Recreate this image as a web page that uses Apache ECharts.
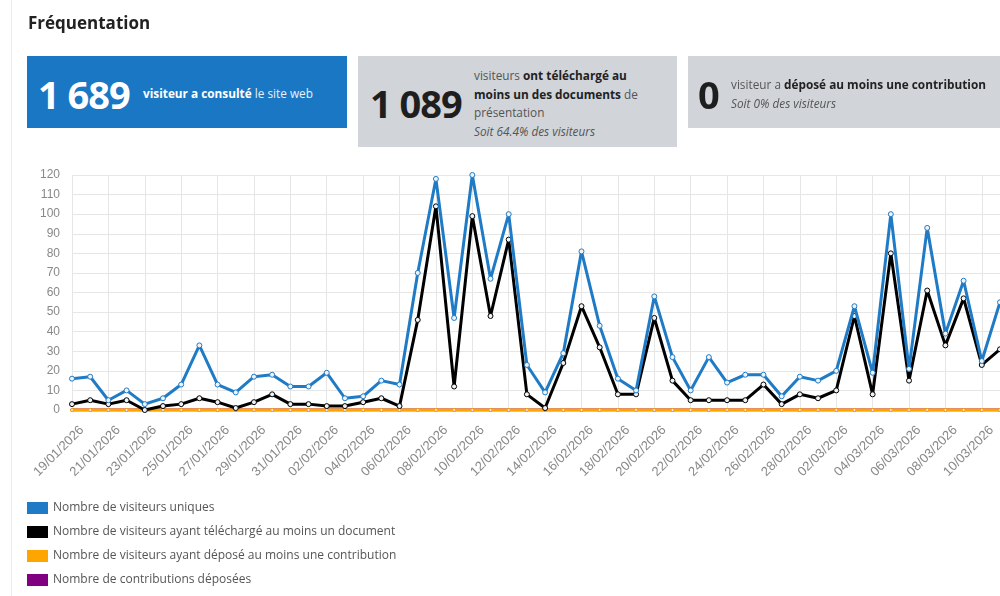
<!DOCTYPE html>
<html><head><meta charset="utf-8">
<script src="https://cdn.jsdelivr.net/npm/echarts@6/dist/echarts.min.js"></script>
<style>
html,body{margin:0;padding:0;background:#fff;width:1000px;height:596px;overflow:hidden;font-family:"Open Sans","Noto Sans",sans-serif;}
#chart{position:absolute;left:0;top:0;width:1000px;height:596px;}
.edge{position:absolute;left:11px;top:0;width:1px;height:596px;background:#ececec;}
.title{position:absolute;left:28px;top:11px;font-size:17px;font-weight:700;color:#222;}
.box{position:absolute;top:56px;background:#d1d4d9;color:#333;}
.big{position:absolute;font-weight:700;font-size:38px;letter-spacing:-1px;line-height:40px;}
.txt{position:absolute;font-size:11.8px;line-height:18.7px;color:#555;white-space:nowrap;}
.txt b{color:#222;}
</style></head>
<body>
<div id="chart"></div>
<div class="edge"></div>
<div class="title">Fréquentation</div>
<div class="box" style="left:27px;width:320px;height:72px;background:#1a77c3;color:#fff;">
  <div class="big" style="left:11px;top:18px;color:#fff;">1 689</div>
  <div class="txt" style="left:116px;top:28px;color:#e8f1fa;"><b style="color:#fff;">visiteur a consulté</b> le site web</div>
</div>
<div class="box" style="left:358px;width:319px;height:91px;">
  <div class="big" style="left:12px;top:27px;color:#1e1e1e;">1 089</div>
  <div class="txt" style="left:116px;top:10px;">visiteurs <b>ont téléchargé au</b><br><b>moins un des documents</b> de<br>présentation<br><i>Soit 64.4% des visiteurs</i></div>
</div>
<div class="box" style="left:688px;width:320px;height:72px;">
  <div class="big" style="left:10px;top:18px;color:#1e1e1e;">0</div>
  <div class="txt" style="left:43px;top:19px;">visiteur a <b>déposé au moins une contribution</b><br><i>Soit 0% des visiteurs</i></div>
</div>
<script>
const categories = ["19/01/2026","20/01/2026","21/01/2026","22/01/2026","23/01/2026","24/01/2026","25/01/2026","26/01/2026","27/01/2026","28/01/2026","29/01/2026","30/01/2026","31/01/2026",
"01/02/2026","02/02/2026","03/02/2026","04/02/2026","05/02/2026","06/02/2026","07/02/2026","08/02/2026","09/02/2026","10/02/2026","11/02/2026","12/02/2026","13/02/2026","14/02/2026","15/02/2026","16/02/2026","17/02/2026","18/02/2026","19/02/2026","20/02/2026","21/02/2026","22/02/2026","23/02/2026","24/02/2026","25/02/2026","26/02/2026","27/02/2026","28/02/2026",
"01/03/2026","02/03/2026","03/03/2026","04/03/2026","05/03/2026","06/03/2026","07/03/2026","08/03/2026","09/03/2026","10/03/2026","11/03/2026"];
const visiteursUniques = [16,17,5,10,3,6,13,33,13,9,17,18,12,12,19,6,7,15,13,70,118,47,120,67,100,23,9,29,81,43,16,10,58,27,10,27,14,18,18,7,17,15,20,53,19,100,21,93,39,66,25,55];
const visiteursTelechargement = [3,5,3,5,0,2,3,6,4,1,4,8,3,3,2,2,4,6,2,46,104,12,99,48,87,8,1,24,53,32,8,8,47,15,5,5,5,5,13,3,8,6,10,48,8,80,15,61,33,57,23,31];
const visiteursContribution = [0,0,0,0,0,0,0,0,0,0,0,0,0,0,0,0,0,0,0,0,0,0,0,0,0,0,0,0,0,0,0,0,0,0,0,0,0,0,0,0,0,0,0,0,0,0,0,0,0,0,0,0];
const contributionsDeposees = [0,0,0,0,0,0,0,0,0,0,0,0,0,0,0,0,0,0,0,0,0,0,0,0,0,0,0,0,0,0,0,0,0,0,0,0,0,0,0,0,0,0,0,0,0,0,0,0,0,0,0,0];
const seriesNames = ["Nombre de visiteurs uniques","Nombre de visiteurs ayant téléchargé au moins un document","Nombre de visiteurs ayant déposé au moins une contribution","Nombre de contributions déposées"];
const seriesColors = ['#1f7bc6','#000000','#ffa500','#800080'];
const yTicks = {min:0,max:120,interval:10};

const chart = echarts.init(document.getElementById('chart'), null, {renderer:'canvas'});
function lineSeries(name, data, color, z, size){
  return {name, type:'line', data, z, color,
    lineStyle:{color, width:3},
    symbol:'circle', symbolSize:size,
    itemStyle:{color:'#eef3f8', borderColor:color, borderWidth:1},
    emphasis:{disabled:true}, animation:false};
}
chart.setOption({
  animation:false,
  grid:{left:72, top:175, width:931, height:235, containLabel:false},
  legend:{orient:'vertical', left:27, top:502, height:95, padding:0, itemWidth:21, itemHeight:12, itemGap:12,
    data:seriesNames.map((n,i)=>({name:n, icon:'rect', itemStyle:{color:seriesColors[i], borderWidth:0}})),
    textStyle:{fontFamily:'Open Sans', fontSize:12, color:'#555', padding:[0,0,0,0]}},
  xAxis:{type:'category', data:categories, boundaryGap:false,
    axisLine:{show:false}, axisTick:{show:false},
    axisLabel:{interval:1, rotate:45, fontFamily:'Liberation Sans', fontSize:13, color:'#888', margin:28, padding:[0,-14,0,0]},
    splitLine:{show:true, interval:1, lineStyle:{color:'#e6e6e6'}}},
  yAxis:{type:'value', min:yTicks.min, max:yTicks.max, interval:yTicks.interval,
    axisLine:{show:false}, axisTick:{show:false},
    axisLabel:{fontFamily:'Liberation Sans', fontSize:12, color:'#888', margin:12},
    splitLine:{lineStyle:{color:'#e6e6e6'}}},
  series:[
    lineSeries(seriesNames[0], visiteursUniques, seriesColors[0], 4, 5),
    lineSeries(seriesNames[1], visiteursTelechargement, seriesColors[1], 3, 5),
    lineSeries(seriesNames[2], visiteursContribution, seriesColors[2], 2, 3),
    lineSeries(seriesNames[3], contributionsDeposees, seriesColors[3], 1, 3)
  ]
});
</script>
</body></html>
